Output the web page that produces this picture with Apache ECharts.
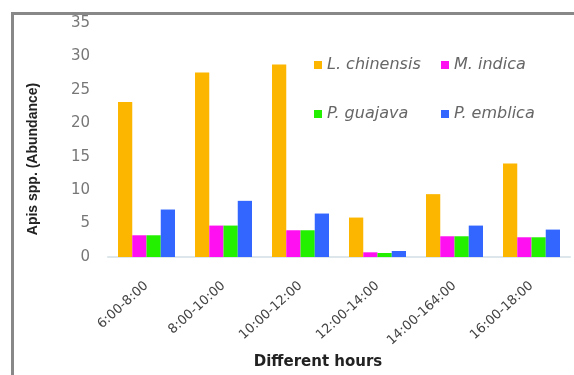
<!DOCTYPE html>
<html><head><meta charset="utf-8">
<script src="https://cdn.jsdelivr.net/npm/echarts@6/dist/echarts.min.js"></script>
<style>html,body{margin:0;padding:0;background:#fff}#c{width:574px;height:375px}</style>
</head><body><div id="c"></div>
<script>
const categories = ['6:00-8:00','8:00-10:00','10:00-12:00','12:00-14:00','14:00-164:00','16:00-18:00'];
const seriesNames = ['L. chinensis','M. indica','P. guajava','P. emblica'];
const lChinensis = [23.2, 27.6, 28.8, 5.9, 9.4, 14.0];
const mIndica = [3.25, 4.7, 4.0, 0.7, 3.1, 2.95];
const pGuajava = [3.25, 4.7, 4.0, 0.6, 3.1, 2.95];
const pEmblica = [7.1, 8.4, 6.5, 0.9, 4.7, 4.1];
const colors = ['#FDB600','#FF10F0','#22F000','#3366FF'];
const yTicks = [0,5,10,15,20,25,30,35];

const chart = echarts.init(document.getElementById('c'));
const legendStyle = {fontFamily:'DejaVu Sans', fontSize:16, fontStyle:'italic', color:'#666'};
const mk = (name, left, top) => ({
  data:[name], left:left, top:top, itemWidth:8, itemHeight:8, icon:'rect', itemGap:0, padding:0,
  textStyle:Object.assign({padding:[0,0,0,0]}, legendStyle), selectedMode:false
});
const values = [lChinensis, mIndica, pGuajava, pEmblica];
chart.setOption({
  animation:false,
  backgroundColor:'#fff',
  color:colors,
  graphic:[{type:'polyline', shape:{points:[[12.5,375],[12.5,13.5],[574,13.5]]}, style:{stroke:'#888', lineWidth:3, fill:null}}],
  legend:[mk(seriesNames[0],314,57), mk(seriesNames[1],441,57), mk(seriesNames[2],314,106), mk(seriesNames[3],441,106)],
  grid:{left:108, right:4, top:23, bottom:118, containLabel:false},
  xAxis:{type:'category', data:categories,
    axisLine:{lineStyle:{color:'#dde6ea', width:2}}, axisTick:{show:false},
    axisLabel:{rotate:42, color:'#444', fontFamily:'DejaVu Sans', fontSize:13, margin:27, interval:0},
    name:'Different hours', nameLocation:'middle', nameGap:97,
    nameTextStyle:{fontFamily:'DejaVu Sans', fontWeight:'bold', fontSize:15, color:'#222', padding:[0,42,0,0]}},
  yAxis:{type:'value', min:yTicks[0], max:yTicks[yTicks.length-1], interval:5,
    axisLine:{show:false}, axisTick:{show:false}, splitLine:{show:false},
    axisLabel:{color:'#777', fontFamily:'DejaVu Sans', fontSize:15, margin:18},
    name:'Apis spp. (Abundance)', nameLocation:'middle', nameGap:68,
    nameTextStyle:{fontFamily:'Liberation Sans', fontWeight:'bold', fontSize:14, color:'#222', padding:[0,38,0,0]}},
  series: seriesNames.map((n,i)=>({name:n, type:'bar', data:values[i], barGap:'0%', barCategoryGap:'26%', itemStyle:{color:colors[i]}}))
});
</script></body></html>
